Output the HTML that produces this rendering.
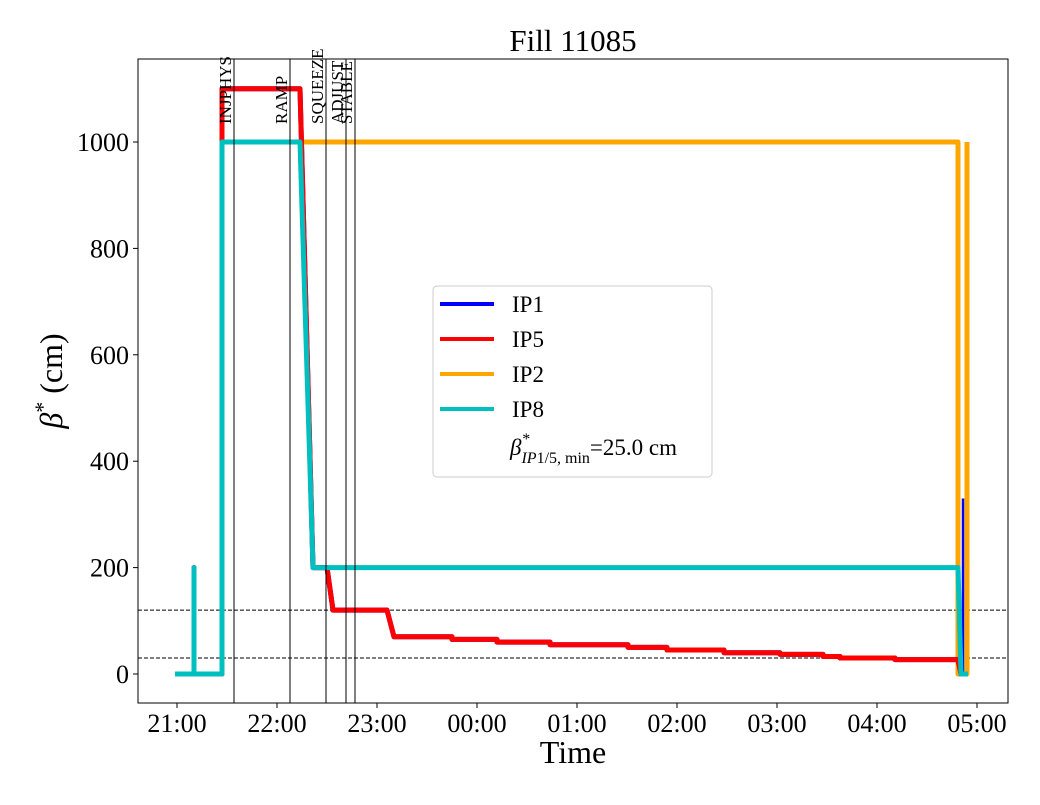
<!DOCTYPE html>
<html><head><meta charset="utf-8"><style>
body{margin:0;background:#fff}
svg text{font-family:"Liberation Serif","DejaVu Serif",serif}
</style></head><body>
<svg id="c" width="1040" height="800" xmlns="http://www.w3.org/2000/svg">
<rect x="0" y="0" width="1040" height="800" fill="#fff"/>
<g id="marks"></g>
<rect x="138" y="59" width="870" height="644" fill="none" stroke="#000" stroke-width="1"/>
<text x="573" y="51" font-size="31" text-anchor="middle">Fill 11085</text>
<text x="573" y="763" font-size="32" text-anchor="middle">Time</text>
<text transform="translate(62,381) rotate(-90)" font-size="32" text-anchor="middle"><tspan font-style="italic">β</tspan><tspan dy="-12" font-size="22">*</tspan><tspan dy="12"> (cm)</tspan></text>
<g id="ticks"></g>
<g>
<rect x="433" y="286" width="279" height="191" rx="4" fill="#fff" stroke="#ccc"/>
<line x1="440" y1="304" x2="494" y2="304" stroke="#0000ff" stroke-width="4"/><text x="512" y="312" font-size="23">IP1</text>
<line x1="440" y1="339" x2="494" y2="339" stroke="#ff0000" stroke-width="4"/><text x="512" y="347" font-size="23">IP5</text>
<line x1="440" y1="374" x2="494" y2="374" stroke="#ffa500" stroke-width="4"/><text x="512" y="382" font-size="23">IP2</text>
<line x1="440" y1="409" x2="494" y2="409" stroke="#00bfbf" stroke-width="4"/><text x="512" y="417" font-size="23">IP8</text>
<text x="510" y="455" font-size="23"><tspan font-style="italic">β</tspan><tspan dy="-11" font-size="16" font-style="italic">*</tspan><tspan dx="-8" dy="19" font-size="16"><tspan font-style="italic">IP</tspan>1/5, min</tspan><tspan dy="-8">=25.0 cm</tspan></text>
</g>
</svg>
<script>
// time in hours after 21:00
const ipLowT=[-0.02,0.17,0.17,0.17,0.45,0.45,1.23,1.36,1.50,1.56,2.10,2.17,2.75,2.75,3.20,3.20,3.73,3.73,4.51,4.51,4.90,4.90,5.47,5.47,6.03,6.03,6.46,6.46,6.63,6.63,7.18,7.18,7.81,7.84,7.91];
const ipLowV=[0,0,200,0,0,1100,1100,200,200,120,120,70,70,65,65,60,60,55,55,50,50,45,45,40,40,37,37,33,33,30,30,27,27,0,0];
const ip1SpikeT=[7.86,7.86];
const ip1SpikeV=[0,330];
const ip2T=[-0.02,0.45,0.45,7.81,7.81,7.90,7.90];
const ip2V=[0,0,1000,1000,0,0,1000];
const ip8T=[-0.02,0.17,0.17,0.17,0.45,0.45,1.23,1.36,7.81,7.84,7.91];
const ip8V=[0,0,200,0,0,1000,1000,200,200,0,0];
const xTickLabels=["21:00","22:00","23:00","00:00","01:00","02:00","03:00","04:00","05:00"];
const yTicks=[0,200,400,600,800,1000];
const phaseNames=["INJPHYS","RAMP","SQUEEZE","ADJUST","STABLE"];
const phaseT=[0.57,1.13,1.49,1.69,1.78];
const refLevels=[120,30];

const X=h=>177+h*100, Y=v=>674-v*0.532;
const NS="http://www.w3.org/2000/svg";
const marks=document.getElementById('marks'), ticks=document.getElementById('ticks');
function el(tag,attrs,parent){const e=document.createElementNS(NS,tag);for(const k in attrs)e.setAttribute(k,attrs[k]);parent.appendChild(e);return e;}

refLevels.forEach(v=>{const l=el('line',{x1:138,x2:1008,y1:Y(v),y2:Y(v),stroke:'#000','stroke-width':1,'stroke-dasharray':'4,2'},marks);

});

function series(T,V,color,w,name){
 const p=el('polyline',{points:T.map((t,i)=>X(t)+','+Y(V[i])).join(' '),fill:'none',stroke:color,'stroke-width':w,'stroke-linejoin':'round'},marks);
 
 
}
series(ip2T,ip2V,'#ffa500',5,'series-ip2');
series(ipLowT,ipLowV,'#0000ff',5,'series-ip1');
series(ip1SpikeT,ip1SpikeV,'#0000ff',2.5,'series-ip1-spike');
series(ipLowT,ipLowV,'#ff0000',5,'series-ip5');
series(ip8T,ip8V,'#00bfbf',5,'series-ip8');

phaseT.forEach((t,i)=>{
 const l=el('line',{x1:X(t),x2:X(t),y1:59,y2:703,stroke:'#000','stroke-width':1},marks);
 
 
 const tx=el('text',{transform:`translate(${X(t)-3},124) rotate(-90)`,'font-size':17},marks);
 tx.textContent=phaseNames[i];
 
 
});

xTickLabels.forEach((s,i)=>{
 const x=X(i);
 el('line',{x1:x,x2:x,y1:703,y2:708,stroke:'#000'},ticks);
 const t=el('text',{x:x,y:732,'font-size':26,'text-anchor':'middle'},ticks);t.textContent=s;
 
 
});
yTicks.forEach(v=>{
 const y=Y(v);
 el('line',{x1:133,x2:138,y1:y,y2:y,stroke:'#000'},ticks);
 const t=el('text',{x:129,y:y+9,'font-size':26,'text-anchor':'end'},ticks);t.textContent=v;
 
 
});
</script>
</body></html>
